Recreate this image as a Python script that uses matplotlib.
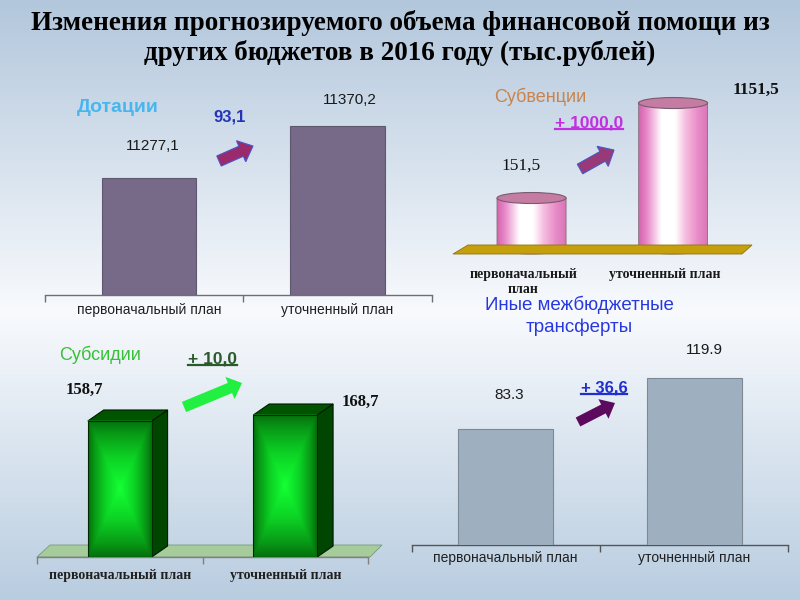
import numpy as np
import matplotlib
matplotlib.use('Agg')
import matplotlib.pyplot as plt
from matplotlib.patches import Polygon, Ellipse, FancyArrow, PathPatch
from matplotlib.path import Path
from matplotlib.colors import LinearSegmentedColormap
from matplotlib.lines import Line2D
from matplotlib.transforms import IdentityTransform

# ---------------- data ----------------
title_lines = ["Изменения прогнозируемого объема финансовой помощи из",
               "других бюджетов в 2016 году (тыс.рублей)"]
categories = ["первоначальный план", "уточненный план"]

dot_title = "Дотации"
dot_values = [11277.1, 11370.2]
dot_labels = ["11277,1", "11370,2"]
dot_change = "93,1"

subv_title = "Субвенции"
subv_values = [151.5, 1151.5]
subv_labels = ["151,5", "1151,5"]
subv_change = "+ 1000,0"

subs_title = "Субсидии"
subs_values = [158.7, 168.7]
subs_labels = ["158,7", "168,7"]
subs_change = "+ 10,0"

other_title = ["Иные межбюджетные", "трансферты"]
other_values = [83.3, 119.9]
other_labels = ["83.3", "119.9"]
other_change = "+ 36,6"

# ---------------- setup ----------------
W, H = 800, 600
SANS = 'Liberation Sans'
SERIF = 'Liberation Serif'
fig = plt.figure(figsize=(8, 6), dpi=100)
ID = IdentityTransform()


def fx(px):
    return px / W


def fy(py):
    return 1 - py / H


def add_ax(l, t, r, b):
    ax = fig.add_axes([l / W, 1 - b / H, (r - l) / W, (b - t) / H])
    ax.patch.set_alpha(0)
    return ax


def ftext(px, py, s, **kw):
    kw.setdefault('ha', 'center')
    kw.setdefault('va', 'center')
    return fig.text(fx(px), fy(py), s, **kw)


def farrow(tail, tip, color, width=11, hw=23, hl=13, ec=None, lw=0):
    x, y = tail[0], H - tail[1]
    dx, dy = tip[0] - tail[0], -(tip[1] - tail[1])
    a = FancyArrow(x, y, dx, dy, width=width, head_width=hw, head_length=hl,
                   length_includes_head=True, transform=ID,
                   facecolor=color, edgecolor=ec if ec else color, lw=lw, zorder=20)
    fig.add_artist(a)


def fpoly(pts, **kw):
    p = Polygon([(fx(a), fy(b)) for a, b in pts], closed=True,
                transform=fig.transFigure, **kw)
    fig.add_artist(p)


# background gradient
bg = fig.add_axes([0, 0, 1, 1], zorder=-10)
bg.axis('off')
bg_cmap = LinearSegmentedColormap.from_list(
    'bg', [(0, '#b9cde0'), (0.48, '#f8fafd'), (1.0, '#b3c7dc')])
bg.imshow(np.linspace(0, 1, 300)[:, None], cmap=bg_cmap, aspect='auto',
          extent=(0, 1, 0, 1), interpolation='bilinear')
bg.set_xlim(0, 1)
bg.set_ylim(0, 1)
bg.invert_yaxis()

# title
ftext(400, 23, title_lines[0], fontsize=19.5, family=SERIF, weight='bold')
ftext(400, 53, title_lines[1], fontsize=19.5, family=SERIF, weight='bold')

x = np.arange(len(categories))


def base_axis(ax, xl, labelfont, pad, color='#707070'):
    for s in ['top', 'left', 'right']:
        ax.spines[s].set_visible(False)
    ax.spines['bottom'].set_color(color)
    ax.spines['bottom'].set_linewidth(1.0)
    ax.set_yticks([])
    ax.set_xticks(x)
    ax.set_xticklabels(categories, **labelfont)
    ax.set_xticks([xl[0] + 1e-6, 0.5, xl[1] - 1e-6], minor=True)
    ax.tick_params(axis='x', which='major', length=0, pad=pad, colors='#202020')
    ax.tick_params(axis='x', which='minor', length=5, width=1.0, color=color, direction='out')


# ---------------- panel 1: Дотации ----------------
ax1 = add_ax(45, 95, 432, 295)
d_lo, d_hi = 11067.6, 11425.7
ax1.bar(x, np.array(dot_values) - d_lo, bottom=d_lo, width=0.5,
        color='#766a88', edgecolor='#5f566f', lw=0.8, zorder=3)
xl1 = (-0.552, 1.501)
ax1.set_xlim(*xl1)
ax1.set_ylim(d_lo, d_hi)
base_axis(ax1, xl1, dict(fontsize=10, family=SANS), pad=6)
for i, (v, lbl, off) in enumerate(zip(dot_values, dot_labels, [(4, 32), (12, 26)])):
    ax1.annotate(lbl, xy=(i, v), xytext=off, textcoords='offset pixels',
                 ha='center', va='center', fontsize=11, family=SANS, color='#1a1a1a')
ftext(118, 107, dot_title, fontsize=14, family=SANS, weight='bold', color='#48b6ee')
ftext(230, 117, dot_change, fontsize=12, family=SANS, weight='bold', color='#2436b8')
farrow((219, 161), (253, 146), '#9a2a6c', ec='#4858c8', lw=0.8)

# ---------------- panel 2: Субвенции ----------------
ax2 = add_ax(453, 80, 752, 262)
V0 = -380.0
yl2 = (-522.0, 1394.0)
ax2.set_xlim(-0.555, 1.558)
ax2.set_ylim(*yl2)
ax2.axis('off')
fpoly([(453, 254), (468, 245), (752, 245), (742, 254)],
      facecolor='#c6a00c', edgecolor='#8c7408', lw=0.6, zorder=1)
pink = LinearSegmentedColormap.from_list(
    'pink', [(0, '#d464ac'), (0.12, '#e98ccb'), (0.32, '#ffffff'),
             (0.52, '#ffffff'), (0.66, '#f6c0e0'), (0.84, '#e88cc8'), (1, '#d874b4')])
cw = 0.488
eh = 116.0
for i, v in enumerate(subv_values):
    x0, x1 = i - cw / 2, i + cw / 2
    t = np.linspace(0, -np.pi, 40)
    arc = np.column_stack([i + cw / 2 * np.cos(t), V0 + eh / 2 * np.sin(t)])
    verts = np.vstack([[(x0, v), (x1, v)], arc, [(x0, v)]])
    path = Path(verts)
    im = ax2.imshow(np.linspace(0, 1, 256)[None, :], cmap=pink, aspect='auto',
                    extent=(x0, x1, V0 - eh, v), interpolation='bicubic', zorder=2)
    pp = PathPatch(path, facecolor='none', edgecolor='#8a6a80', lw=0.6,
                   transform=ax2.transData, zorder=3)
    ax2.add_patch(pp)
    im.set_clip_path(pp)
    ax2.add_patch(Ellipse((i, v), cw, eh, facecolor='#c47ca2', edgecolor='#7a5a70',
                          lw=0.8, zorder=4))
ax2.set_xlim(-0.555, 1.558)
ax2.set_ylim(*yl2)
for i, (v, lbl, off, wt) in enumerate(zip(subv_values, subv_labels,
                                          [(-11, 32), (83, 13)], ['normal', 'bold'])):
    ax2.annotate(lbl, xy=(i, v), xytext=off, textcoords='offset pixels',
                 ha='center', va='center', fontsize=12.5, family=SERIF, weight=wt,
                 color='#111111', annotation_clip=False)
sub2_cat = [categories[0].replace(' ', '\n'), categories[1]]
for i, c in enumerate(sub2_cat):
    ax2.annotate(c, xy=(i, V0), xytext=(-8, -19), textcoords='offset pixels',
                 ha='center', va='top', fontsize=10, family=SERIF, weight='bold',
                 color='#1a1a1a', linespacing=1.25, annotation_clip=False)
ftext(540, 97, subv_title, fontsize=13, family=SANS, color='#c8844c')
t_subv = ftext(589, 123, subv_change, fontsize=12.5, family=SANS, weight='bold',
               color='#c030e0')
farrow((580, 169), (614, 150), '#983a78', ec='#4858c8', lw=0.8)

# ---------------- panel 3: Субсидии ----------------
ax3 = add_ax(37, 380, 368, 557)
S0 = -68.0
xl3 = (-0.5, 1.5)
ax3.set_xlim(*xl3)
ax3.set_ylim(S0, 227)
fpoly([(37, 557), (50, 545), (382, 545), (370, 557)],
      facecolor='#a6cc9c', edgecolor='#7a9a78', lw=0.6, zorder=0)
base_axis(ax3, xl3, dict(fontsize=10, family=SERIF, weight='bold'), pad=9, color='#808080')
uu, vv = np.meshgrid(np.linspace(-1, 1, 120), np.linspace(-1, 1, 200))
rect_t = np.maximum(np.abs(uu), np.abs(vv))
green = LinearSegmentedColormap.from_list(
    'green', [(0, '#14ff34'), (0.45, '#0cd224'), (0.8, '#089a16'), (1, '#05700c')])
bw = 0.386
ddx, ddy = 0.096, 18.3
for i, v in enumerate(subs_values):
    x0, x1 = i - bw / 2, i + bw / 2
    ax3.add_patch(Polygon([(x1, S0), (x1 + ddx, S0 + ddy), (x1 + ddx, v + ddy), (x1, v)],
                          facecolor='#004600', edgecolor='#001a00', lw=0.8, zorder=3))
    ax3.add_patch(Polygon([(x0, v), (x0 + ddx, v + ddy), (x1 + ddx, v + ddy), (x1, v)],
                          facecolor='#005400', edgecolor='#001a00', lw=0.8, zorder=3))
    ax3.imshow(rect_t, cmap=green, aspect='auto', extent=(x0, x1, S0, v),
               interpolation='bilinear', zorder=4)
    ax3.add_patch(Polygon([(x0, S0), (x1, S0), (x1, v), (x0, v)], facecolor='none',
                          edgecolor='#002a00', lw=0.8, zorder=5))
ax3.set_xlim(*xl3)
ax3.set_ylim(S0, 227)
for i, (v, lbl, off) in enumerate(zip(subs_values, subs_labels, [(-35, 31), (75, 13)])):
    ax3.annotate(lbl, xy=(i, v), xytext=off, textcoords='offset pixels',
                 ha='center', va='center', fontsize=12, family=SERIF, weight='bold',
                 color='#111111', annotation_clip=False)
ftext(100, 355, subs_title, fontsize=13, family=SANS, color='#38c038')
t_subs = ftext(212, 359, subs_change, fontsize=12.5, family=SANS, weight='bold',
               color='#2a5a2a')
farrow((184, 407), (242, 383), '#22f040', width=11, hw=24, hl=13)

# ---------------- panel 4: Иные межбюджетные трансферты ----------------
ax4 = add_ax(412, 340, 788, 545)
xl4 = (-0.495, 1.495)
ax4.bar(x, other_values, width=0.503, color='#9eb0c0', edgecolor='#7c8894',
        lw=0.8, zorder=3)
ax4.set_xlim(*xl4)
ax4.set_ylim(0, 147)
base_axis(ax4, xl4, dict(fontsize=10, family=SANS), pad=4, color='#555555')
for i, (v, lbl, off) in enumerate(zip(other_values, other_labels, [(4, 34), (10, 28)])):
    ax4.annotate(lbl, xy=(i, v), xytext=off, textcoords='offset pixels',
                 ha='center', va='center', fontsize=11, family=SANS, color='#1a1a1a',
                 annotation_clip=False)
ftext(579, 305, other_title[0], fontsize=13.5, family=SANS, color='#2838e0')
ftext(579, 327, other_title[1], fontsize=13.5, family=SANS, color='#2838e0')
t_other = ftext(604, 388, other_change, fontsize=12, family=SANS, weight='bold',
                color='#2030d0')
farrow((578, 422), (615, 403), '#5c0a5e', width=10, hw=22, hl=13)

# underlines
fig.canvas.draw()
rend = fig.canvas.get_renderer()
for t in [t_subv, t_subs, t_other]:
    bb = t.get_window_extent(rend)
    fig.add_artist(Line2D([bb.x0, bb.x1], [bb.y0 + 1.5, bb.y0 + 1.5], transform=ID,
                          color=t.get_color(), lw=1.6))

fig.savefig('out.png', dpi=100)
